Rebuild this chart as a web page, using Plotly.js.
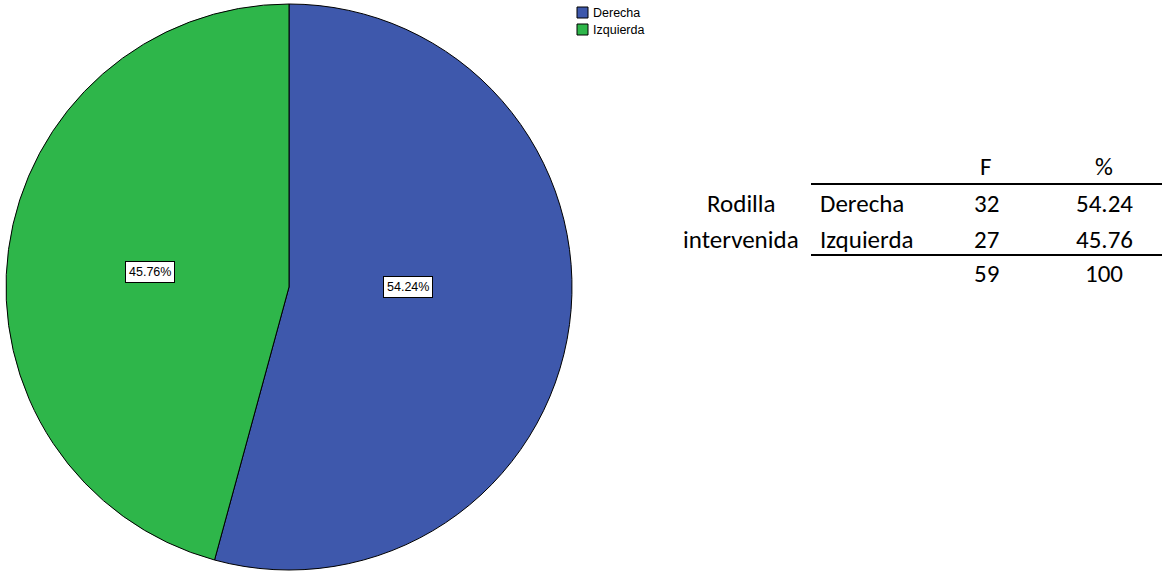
<!DOCTYPE html>
<html>
<head>
<meta charset="utf-8">
<script src="https://cdn.plot.ly/plotly-3.0.1.min.js"></script>
<style>
  html, body { margin: 0; padding: 0; background: #ffffff; }
  #chart { width: 1164px; height: 571px; }
</style>
</head>
<body>
<div id="chart"></div>
<script>
// Rodilla intervenida: frequency by side
const categories = ['Derecha', 'Izquierda'];
const counts = [32, 27];
const percents = [54.24, 45.76];
const sliceColors = ['#3E58AC', '#2EB64A'];
const tableHeader = ['F', '%'];
const rowGroupLabel = ['Rodilla', 'intervenida'];
const totalCount = 59;
const totalPercent = 100;

const W = 1164, H = 571;
const px = x => x / W;
const py = y => 1 - y / H;

const pie = {
  type: 'pie',
  labels: categories,
  values: counts,
  sort: false,
  direction: 'clockwise',
  rotation: 0,
  textinfo: 'none',
  hoverinfo: 'label+value+percent',
  showlegend: false,
  marker: { colors: sliceColors, line: { color: '#000000', width: 1 } },
  domain: { x: [px(6), px(572)], y: [py(570), py(4)] }
};

const annotations = [];
const shapes = [];
const smallFont = { family: 'Liberation Sans, Arial, sans-serif', size: 12.5, color: '#000000' };

// slice labels in white boxes
const labelPos = [[408, 287], [150, 272]];
const sum = counts.reduce((a, b) => a + b, 0);
counts.forEach((v, i) => {
  annotations.push({
    xref: 'paper', yref: 'paper',
    x: px(labelPos[i][0]), y: py(labelPos[i][1]),
    xanchor: 'center', yanchor: 'middle',
    text: (v / sum * 100).toFixed(2) + '%',
    showarrow: false,
    font: smallFont,
    bgcolor: '#ffffff', bordercolor: '#000000', borderwidth: 1, borderpad: 3
  });
});

// legend
categories.forEach((c, i) => {
  const top = 7 + i * 17;
  shapes.push({
    type: 'rect', xref: 'paper', yref: 'paper',
    x0: px(577), x1: px(588), y0: py(top + 11), y1: py(top),
    fillcolor: sliceColors[i], line: { color: '#000000', width: 1 }
  });
  annotations.push({
    xref: 'paper', yref: 'paper',
    x: px(591), y: py(top + 6),
    xanchor: 'left', yanchor: 'middle',
    text: c, showarrow: false,
    font: smallFont
  });
});

// frequency table
const tFont = { family: 'Carlito, Lato, sans-serif', size: 25, color: '#000000' };
const colF = 986, colP = 1104, colCat = 818, colGroup = 741;
const rowY = [203, 239];
function txt(x, y, t, anchor) {
  annotations.push({
    xref: 'paper', yref: 'paper', x: px(x), y: py(y),
    xanchor: anchor || 'center', yanchor: 'middle',
    text: String(t), showarrow: false, font: tFont
  });
}
txt(colF, 167, tableHeader[0]);
txt(colP, 167, tableHeader[1]);
rowGroupLabel.forEach((t, i) => txt(colGroup, rowY[i], t));
categories.forEach((c, i) => {
  txt(colCat, rowY[i], c, 'left');
  txt(colF, rowY[i], counts[i]);
  txt(colP, rowY[i], percents[i].toFixed(2));
});
txt(colF, 273, totalCount);
txt(colP, 273, totalPercent);
[184, 255].forEach(y => shapes.push({
  type: 'line', xref: 'paper', yref: 'paper',
  x0: px(811), x1: px(1162), y0: py(y), y1: py(y),
  line: { color: '#000000', width: 2 }
}));

const layout = {
  width: W, height: H,
  margin: { l: 0, r: 0, t: 0, b: 0 },
  paper_bgcolor: '#ffffff',
  plot_bgcolor: '#ffffff',
  showlegend: false,
  annotations: annotations,
  shapes: shapes
};

Plotly.newPlot('chart', [pie], layout, { displayModeBar: false });
</script>
</body>
</html>
